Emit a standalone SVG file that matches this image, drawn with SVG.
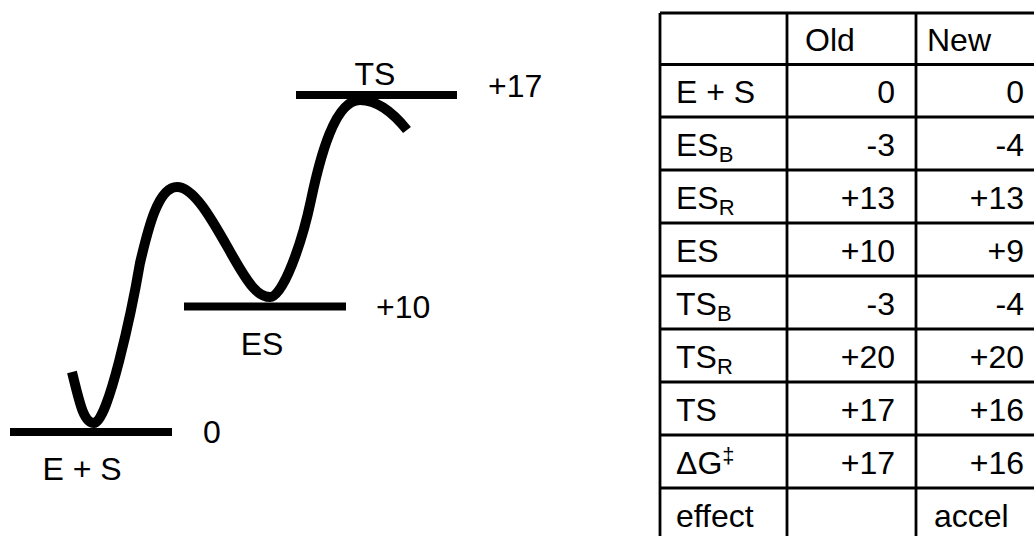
<svg xmlns="http://www.w3.org/2000/svg" width="1034" height="536" viewBox="0 0 1034 536">
<style>
text{font-family:"Liberation Sans",Arial,sans-serif;font-size:32px;fill:#000}
.bar{stroke:#000;stroke-width:8;fill:none}
.curve{stroke:#000;stroke-width:10;fill:none;stroke-linejoin:round}
.grid{stroke:#000;stroke-width:2.8;fill:none}
.r{text-anchor:end}
.m{text-anchor:middle}
.sub{font-size:22px}
</style>
<rect width="1034" height="536" fill="#fff"/>
<g id="levels">
<g id="level-es0"><line class="bar" x1="10" y1="432" x2="172" y2="432"/><text x="203" y="443">0</text><text class="m" x="82" y="480">E + S</text></g>
<g id="level-es"><line class="bar" x1="184" y1="306.5" x2="346" y2="306.5"/><text x="376" y="318">+10</text><text class="m" x="262" y="355">ES</text></g>
<g id="level-ts"><line class="bar" x1="296" y1="95" x2="457" y2="95"/><text x="488" y="97">+17</text><text class="m" x="375" y="85">TS</text></g>
</g>
<g id="connectors">
<path class="curve" d="M72 372 C80 405 84 423 94 423 C108 423 132 310 140 263 C148 229 158 187 177 187 C195 187 215 225 232 255 C249 285 258 297 270 297 C283 297 302 243 311 200 C320 157 335 100 360 100 C378 100 395 115 407 130"/>
</g>
<g id="table">
<g class="grid">
<line x1="660" y1="13" x2="1045" y2="13"/>
<line x1="660" y1="64.5" x2="1045" y2="64.5"/>
<line x1="660" y1="117" x2="1045" y2="117"/>
<line x1="660" y1="170" x2="1045" y2="170"/>
<line x1="660" y1="223" x2="1045" y2="223"/>
<line x1="660" y1="276" x2="1045" y2="276"/>
<line x1="660" y1="329" x2="1045" y2="329"/>
<line x1="660" y1="382" x2="1045" y2="382"/>
<line x1="660" y1="435" x2="1045" y2="435"/>
<line x1="660" y1="488" x2="1045" y2="488"/>
<line x1="660" y1="541" x2="1045" y2="541"/>
<line x1="660" y1="13" x2="660" y2="541"/>
<line x1="787" y1="13" x2="787" y2="541"/>
<line x1="916" y1="13" x2="916" y2="541"/>
<line x1="1045" y1="13" x2="1045" y2="541"/>
</g>
<g id="row-header"><text x="805" y="51">Old</text><text x="927" y="51">New</text></g>
<g id="row-es0"><text x="676" y="103">E + S</text><text class="r" x="895" y="103">0</text><text class="r" x="1024" y="103">0</text></g>
<g id="row-esb"><text x="676" y="156">ES<tspan class="sub" dy="6">B</tspan></text><text class="r" x="895" y="156">-3</text><text class="r" x="1024" y="156">-4</text></g>
<g id="row-esr"><text x="676" y="209">ES<tspan class="sub" dy="6">R</tspan></text><text class="r" x="895" y="209">+13</text><text class="r" x="1024" y="209">+13</text></g>
<g id="row-es"><text x="676" y="262">ES</text><text class="r" x="895" y="262">+10</text><text class="r" x="1024" y="262">+9</text></g>
<g id="row-tsb"><text x="676" y="315">TS<tspan class="sub" dy="6">B</tspan></text><text class="r" x="895" y="315">-3</text><text class="r" x="1024" y="315">-4</text></g>
<g id="row-tsr"><text x="676" y="368">TS<tspan class="sub" dy="6">R</tspan></text><text class="r" x="895" y="368">+20</text><text class="r" x="1024" y="368">+20</text></g>
<g id="row-ts"><text x="676" y="421">TS</text><text class="r" x="895" y="421">+17</text><text class="r" x="1024" y="421">+16</text></g>
<g id="row-dg"><text x="676" y="474">ΔG<tspan class="sub" dy="-11">‡</tspan></text><text class="r" x="895" y="474">+17</text><text class="r" x="1024" y="474">+16</text></g>
<g id="row-effect"><text x="676" y="527">effect</text><text x="934" y="527">accel</text></g>
</g>
</svg>
